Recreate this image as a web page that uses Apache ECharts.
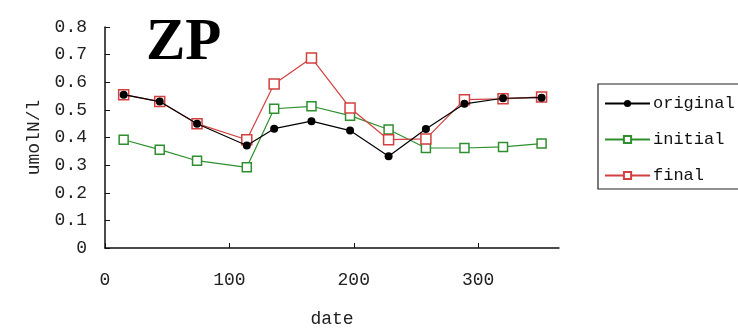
<!DOCTYPE html>
<html>
<head>
<meta charset="utf-8">
<script src="https://cdn.jsdelivr.net/npm/echarts@6/dist/echarts.min.js"></script>
<style>
  html, body { margin: 0; padding: 0; background: #fff; }
  #chart { width: 738px; height: 329px; }
</style>
</head>
<body>
<div id="chart"></div>
<script>
// Sampling days of the year
const dates = [15, 44, 74, 114, 136, 166, 197, 228, 258, 289, 320, 351];

// ZP concentration (umolN/l) for each run
const original = [0.555, 0.530, 0.450, 0.371, 0.432, 0.459, 0.425, 0.332, 0.431, 0.522, 0.542, 0.544];
const initial  = [0.392, 0.356, 0.316, 0.292, 0.504, 0.513, 0.479, 0.429, 0.362, 0.362, 0.366, 0.378];
const final    = [0.555, 0.530, 0.450, 0.392, 0.594, 0.688, 0.507, 0.392, 0.395, 0.537, 0.540, 0.547];

const seriesNames = ['original', 'initial', 'final'];

const pair = (vals) => dates.map((d, i) => [d, vals[i]]);

const FONT = '"Liberation Mono", "DejaVu Sans Mono", monospace';
const GREEN = '#2f8f2f';
const RED = '#d2403f';

const chart = echarts.init(document.getElementById('chart'), null, { renderer: 'canvas' });

chart.setOption({
  backgroundColor: '#ffffff',
  animation: false,
  title: {
    text: 'ZP',
    left: 141,
    top: 9,
    textStyle: {
      fontFamily: '"Liberation Serif", "Times New Roman", serif',
      fontWeight: 'bold',
      fontSize: 59,
      color: '#000'
    }
  },
  legend: {
    data: seriesNames,
    orient: 'vertical',
    left: 598,
    top: 84,
    itemWidth: 45,
    itemHeight: 9,
    itemGap: 19,
    padding: [11, 4, 5, 6],
    borderColor: '#222',
    borderWidth: 1.2,
    textStyle: { fontFamily: FONT, fontSize: 17, color: '#111', padding: [0, 0, 0, -2] }
  },
  grid: {
    left: 105, right: 179, top: 27, bottom: 81,
    containLabel: false,
    outerBoundsMode: 'none'
  },
  xAxis: {
    type: 'value',
    min: 0,
    max: 365,
    interval: 100,
    name: 'date',
    nameLocation: 'middle',
    nameGap: 62,
    nameTextStyle: { fontFamily: FONT, fontSize: 18, color: '#222' },
    axisLine: { show: true, onZero: false, lineStyle: { color: '#111', width: 1.5 } },
    axisTick: { show: true, inside: true, length: 5, lineStyle: { color: '#111' } },
    axisLabel: { margin: 23, showMaxLabel: false, fontFamily: FONT, fontSize: 18, color: '#222' },
    splitLine: { show: false }
  },
  yAxis: {
    type: 'value',
    min: 0,
    max: 0.8,
    interval: 0.1,
    name: 'umolN/l',
    nameLocation: 'middle',
    nameGap: 58,
    nameRotate: 90,
    nameTextStyle: { fontFamily: FONT, fontSize: 18, color: '#222' },
    axisLine: { show: true, lineStyle: { color: '#111', width: 1.5 } },
    axisTick: { show: true, inside: true, length: 5, lineStyle: { color: '#111' } },
    axisLabel: { margin: 18, fontFamily: FONT, fontSize: 18, color: '#222' },
    splitLine: { show: false }
  },
  series: [
    {
      name: 'original',
      type: 'line',
      data: pair(original),
      z: 4,
      symbol: 'circle',
      symbolSize: 8,
      itemStyle: { color: '#000' },
      lineStyle: { color: '#000', width: 1.2 }
    },
    {
      name: 'initial',
      type: 'line',
      data: pair(initial),
      z: 2,
      symbol: 'rect',
      symbolSize: 9,
      itemStyle: { color: '#fff', borderColor: GREEN, borderWidth: 1.5 },
      lineStyle: { color: GREEN, width: 1.2 }
    },
    {
      name: 'final',
      type: 'line',
      data: pair(final),
      z: 3,
      symbol: 'rect',
      symbolSize: 10,
      itemStyle: { color: '#fff', borderColor: RED, borderWidth: 1.5 },
      lineStyle: { color: RED, width: 1.2 }
    }
  ]
});
</script>
</body>
</html>
